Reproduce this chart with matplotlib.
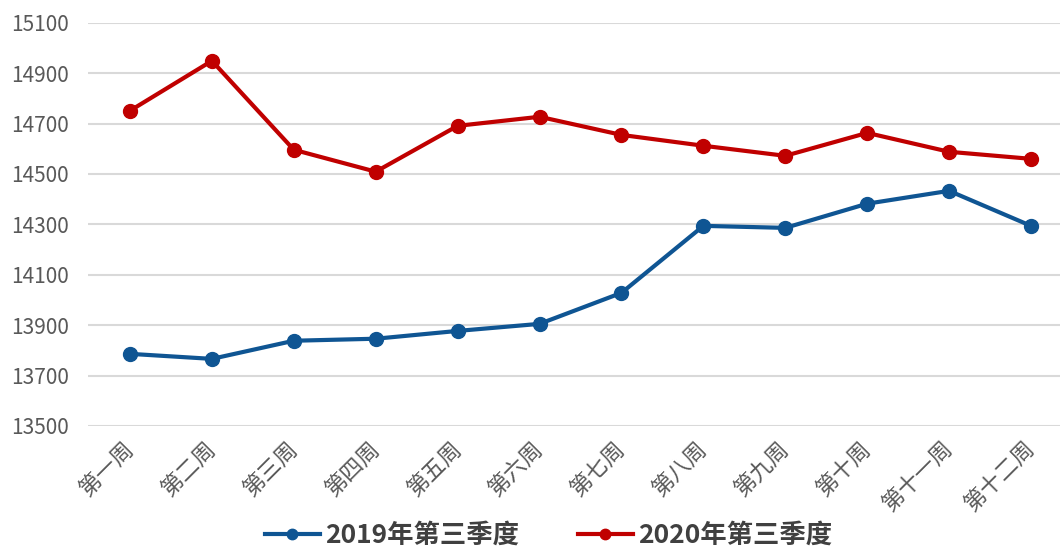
import matplotlib
matplotlib.use('Agg')
import matplotlib.pyplot as plt
import numpy as np

plt.rcParams['font.family'] = ['Noto Sans CJK SC', 'DejaVu Sans']

weeks = ['第一周', '第二周', '第三周', '第四周', '第五周', '第六周',
         '第七周', '第八周', '第九周', '第十周', '第十一周', '第十二周']
q3_2019 = [13786, 13766, 13838, 13846, 13877, 13905,
           14028, 14294, 14286, 14382, 14433, 14294]
q3_2020 = [14751, 14949, 14596, 14509, 14691, 14727,
           14655, 14612, 14572, 14663, 14588, 14560]
yticks = [13500, 13700, 13900, 14100, 14300, 14500, 14700, 14900, 15100]

fig = plt.figure(figsize=(10.6, 5.56), dpi=100)
ax = fig.add_axes([0.083, 0.234, 0.917, 0.725])

x = np.arange(len(weeks))
ax.plot(x, q3_2019, color='#0F5593', lw=3, marker='o', ms=10, label='2019年第三季度', zorder=3)
ax.plot(x, q3_2020, color='#C00000', lw=3, marker='o', ms=10, label='2020年第三季度', zorder=3)

ax.set_ylim(13500, 15100)
ax.set_xlim(-0.513, 11.354)
ax.set_yticks(yticks)
ax.set_yticklabels([str(v) for v in yticks], color='#595959', fontsize=15)
ax.set_xticks(x)
ax.set_xticklabels(weeks, rotation=45, ha='right', va='center', rotation_mode='anchor',
                   color='#595959', fontsize=16)
ax.tick_params(axis='x', length=0, pad=14)
ax.tick_params(axis='y', length=0, pad=14)
ax.grid(axis='y', color='#d9d9d9', lw=1.5)
ax.set_axisbelow(True)
for s in ax.spines.values():
    s.set_visible(False)

leg = fig.legend(loc='lower center', bbox_to_anchor=(0.5175, -0.03), ncol=2, frameon=False,
                 prop={'size': 19, 'weight': 'bold'}, handlelength=2.1, columnspacing=2.2,
                 handletextpad=0.2, markerscale=0.75)
for t in leg.get_texts():
    t.set_color('#404040')

fig.savefig('out.png', dpi=100)
